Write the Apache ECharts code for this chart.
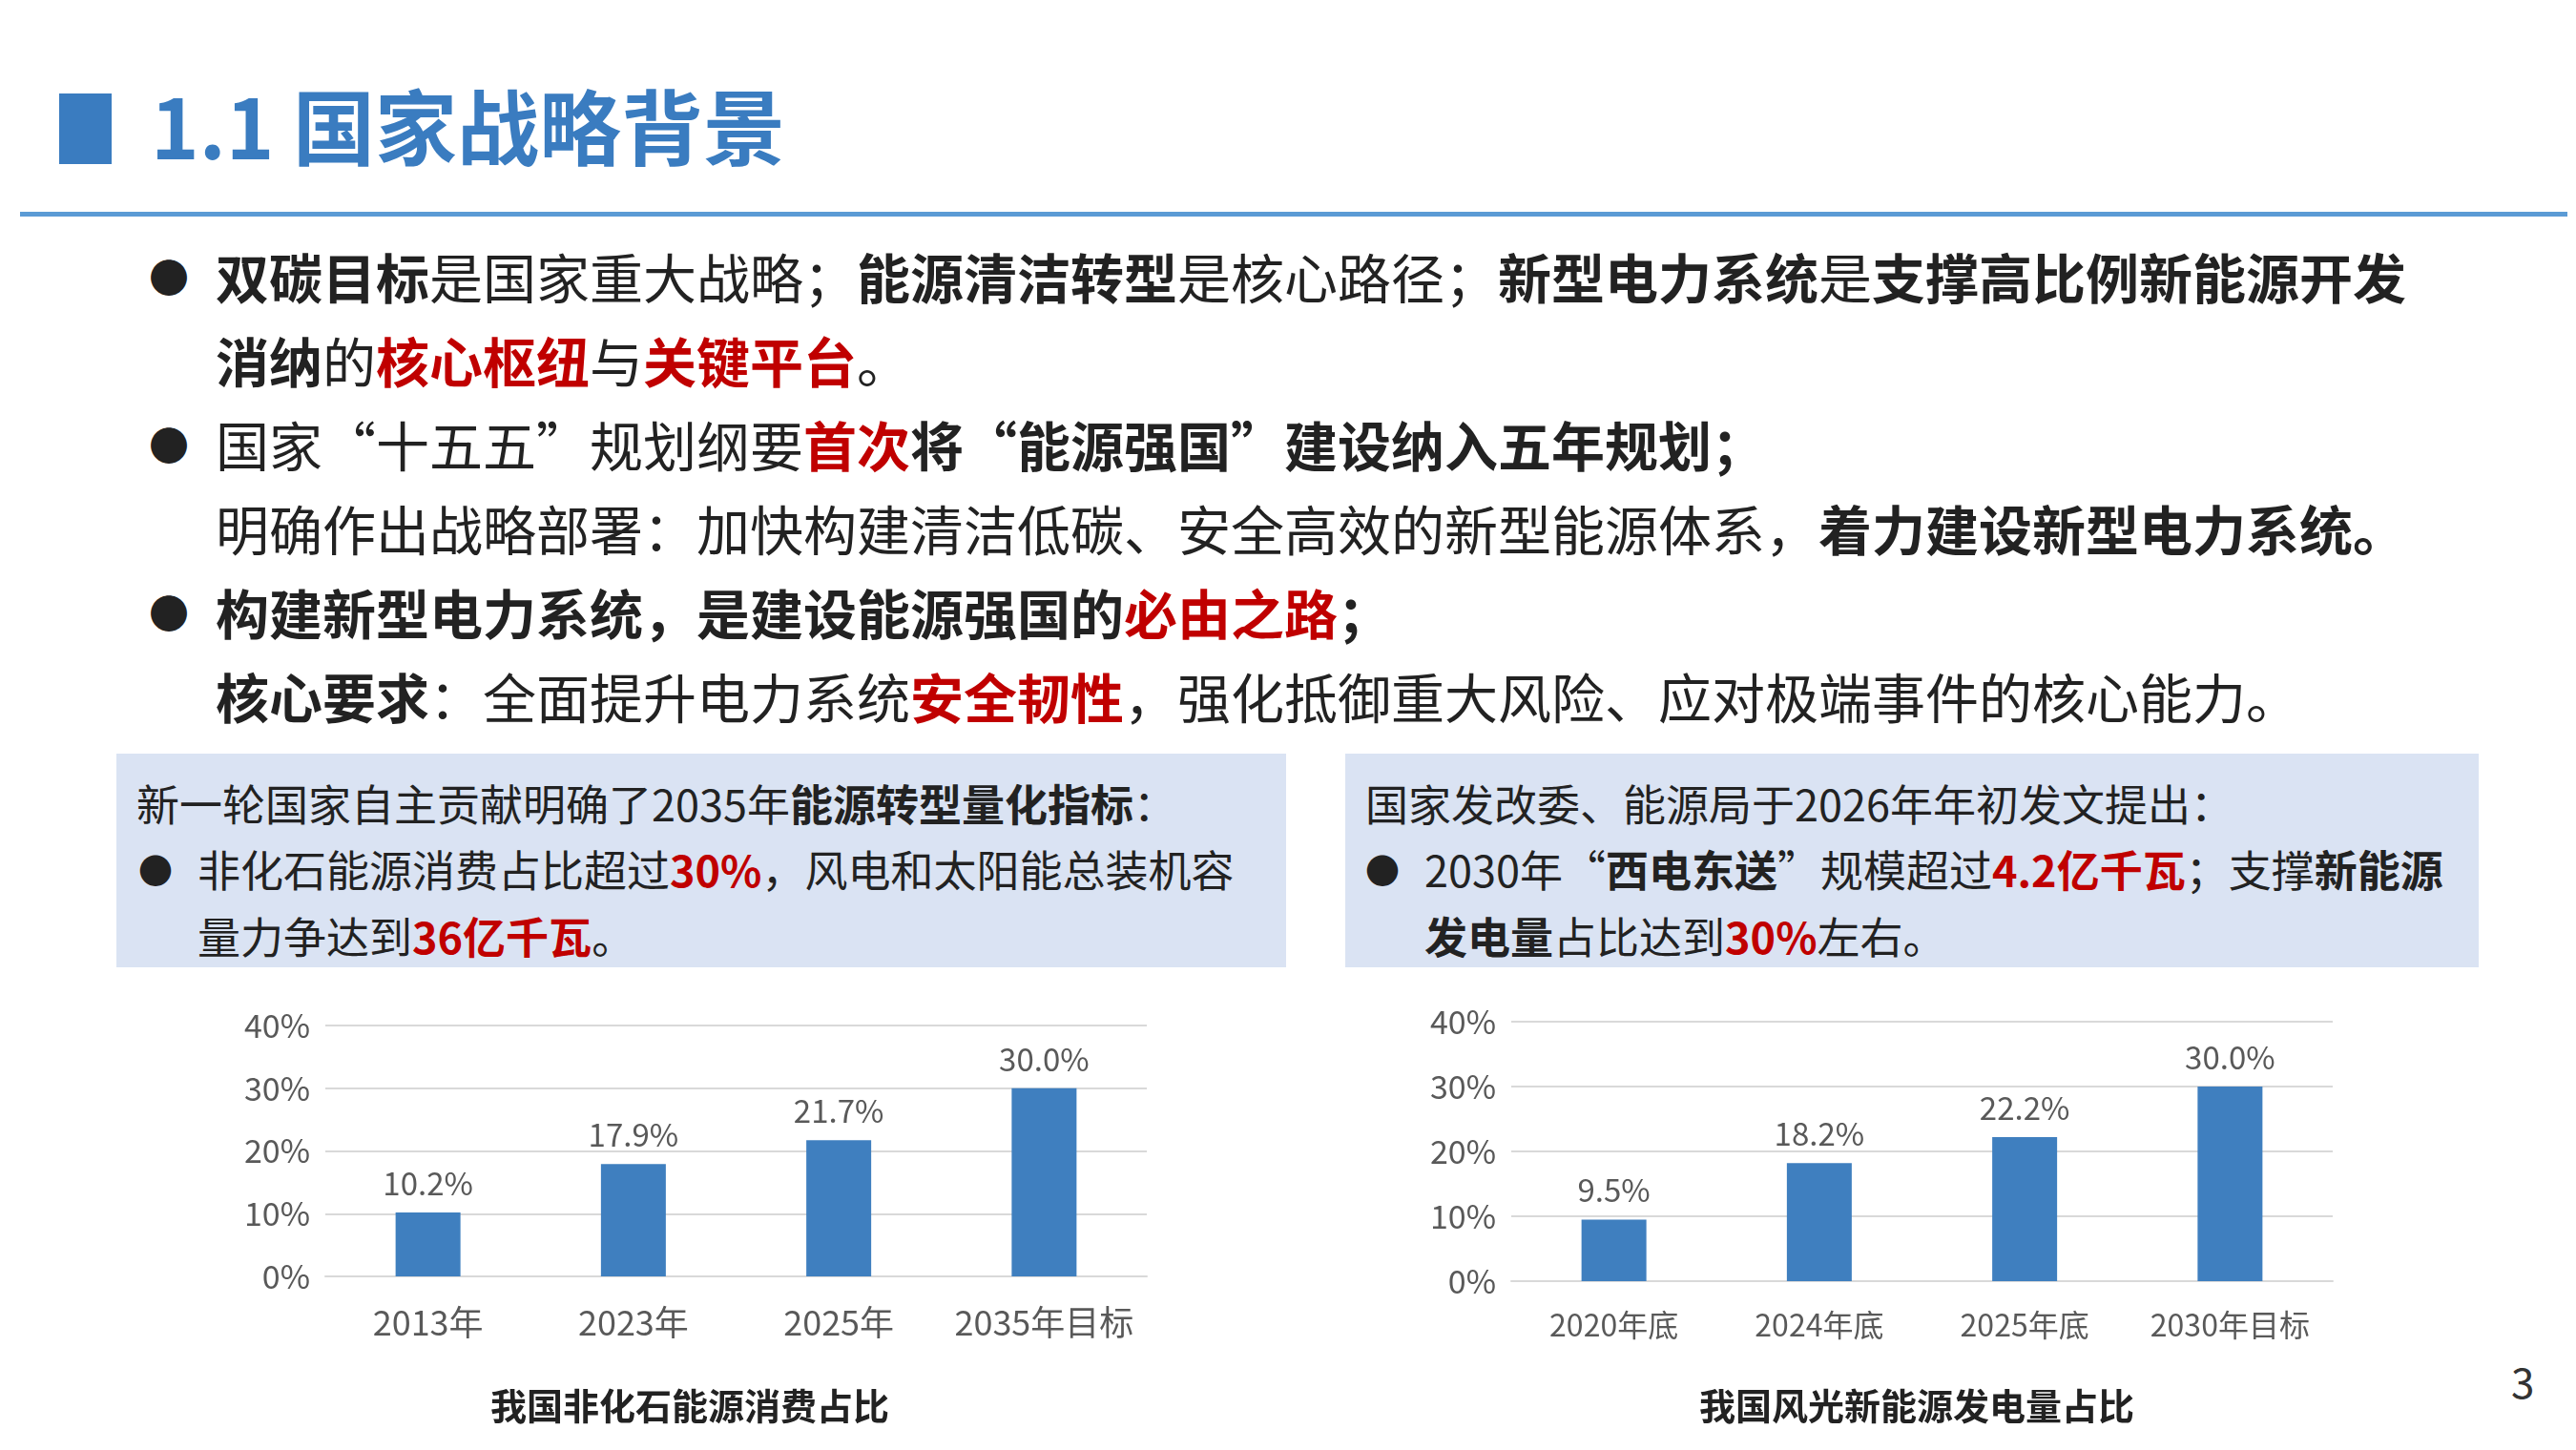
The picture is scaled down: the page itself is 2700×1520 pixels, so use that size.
<!DOCTYPE html>
<html><head><meta charset="utf-8">
<script src="https://cdn.jsdelivr.net/npm/echarts@6/dist/echarts.min.js"></script>
<style>
body{margin:0;width:2700px;height:1520px;background:#fff;font-family:"Noto Sans CJK SC",sans-serif;overflow:hidden;position:relative;color:#222}
.abs{position:absolute;white-space:nowrap}
b{font-weight:700}
.r{color:#c00000;font-weight:700}
.ln{font-size:56px;left:226px;line-height:88px}
.dot{position:absolute;left:-70px;font-size:42px}
.box{position:absolute;background:#dae3f3;top:790px;height:224px}
.bx{font-size:45px;line-height:70px}
#chart{position:absolute;left:0;top:0;width:2700px;height:1520px}
</style></head><body>
<div class="abs" style="left:62px;top:98px;width:55px;height:74px;background:#3a7cc0"></div>
<div class="abs" style="left:158px;top:78px;font-size:86px;font-weight:700;color:#3a7cc0;line-height:104px">1.1 国家战略背景</div>
<div class="abs" style="left:21px;top:222px;width:2670px;height:5px;background:#5b9bd5"></div>

<div class="abs ln" style="top:245px"><span class="dot">●</span><b>双碳目标</b>是国家重大战略；<b>能源清洁转型</b>是核心路径；<b>新型电力系统</b>是<b>支撑高比例新能源开发</b></div>
<div class="abs ln" style="top:333px"><b>消纳</b>的<span class="r">核心枢纽</span>与<span class="r">关键平台</span>。</div>
<div class="abs ln" style="top:421px"><span class="dot">●</span>国家“十五五”规划纲要<span class="r">首次</span><b>将“能源强国”建设纳入五年规划；</b></div>
<div class="abs ln" style="top:509px">明确作出战略部署：加快构建清洁低碳、安全高效的新型能源体系，<b>着力建设新型电力系统。</b></div>
<div class="abs ln" style="top:597px"><span class="dot">●</span><b>构建新型电力系统，是建设能源强国的</b><span class="r">必由之路</span><b>；</b></div>
<div class="abs ln" style="top:685px"><b>核心要求</b>：全面提升电力系统<span class="r">安全韧性</span>，强化抵御重大风险、应对极端事件的核心能力。</div>

<div class="box" style="left:122px;width:1226px"></div>
<div class="box" style="left:1410px;width:1188px"></div>
<div class="abs bx" style="left:143px;top:807px">新一轮国家自主贡献明确了2035年<b>能源转型量化指标</b>：</div>
<div class="abs bx" style="left:207px;top:876px"><span class="dot" style="left:-62px;font-size:36px">●</span>非化石能源消费占比超过<span class="r">30%</span>，风电和太阳能总装机容</div>
<div class="abs bx" style="left:207px;top:946px">量力争达到<span class="r">36亿千瓦</span>。</div>
<div class="abs bx" style="left:1431px;top:807px">国家发改委、能源局于2026年年初发文提出：</div>
<div class="abs bx" style="left:1493px;top:876px"><span class="dot" style="left:-62px;font-size:36px">●</span>2030年“<b>西电东送</b>”规模超过<span class="r">4.2亿千瓦</span>；支撑<b>新能源</b></div>
<div class="abs bx" style="left:1493px;top:946px"><b>发电量</b>占比达到<span class="r">30%</span>左右。</div>
<div class="abs" style="left:2632px;top:1415px;font-size:44px;color:#333">3</div>
<div id="chart"></div>
<script>
var leftCats = ['2013年', '2023年', '2025年', '2035年目标'];
var leftVals = [10.2, 17.9, 21.7, 30.0];
var rightCats = ['2020年底', '2024年底', '2025年底', '2030年目标'];
var rightVals = [9.5, 18.2, 22.2, 30.0];
var leftTitle = '我国非化石能源消费占比';
var rightTitle = '我国风光新能源发电量占比';

var chart = echarts.init(document.getElementById('chart'));
function yAx(i) {
	return {
		gridIndex: i, type: 'value', min: 0, max: 40, interval: 10,
		axisLine: {show: false}, axisTick: {show: false},
		axisLabel: {formatter: '{value}%', color: '#595959', fontSize: 34, margin: 16, fontFamily: 'Noto Sans CJK SC'},
		splitLine: {lineStyle: {color: '#d9d9d9', width: 2}}
	};
}
function xAx(i, cats, size) {
	return {
		gridIndex: i, type: 'category', data: cats,
		axisLine: {lineStyle: {color: '#d9d9d9', width: 2}}, axisTick: {show: false},
		axisLabel: {interval: 0, color: '#595959', fontSize: size, margin: 30, fontFamily: 'Noto Sans CJK SC'}
	};
}
function bar(i, vals) {
	return {
		type: 'bar', xAxisIndex: i, yAxisIndex: i, data: vals, barWidth: 68,
		itemStyle: {color: '#3f7fbf'},
		label: {show: true, position: 'top', distance: 14, color: '#595959', fontSize: 33,
			fontFamily: 'Noto Sans CJK SC', formatter: function(p) { return p.value.toFixed(1) + '%'; }}
	};
}
chart.setOption({
	animation: false,
	title: [
		{text: leftTitle, left: 718, top: 1450, textAlign: 'center', textStyle: {fontSize: 38, fontWeight: 'bold', color: '#222', fontFamily: 'Noto Sans CJK SC'}},
		{text: rightTitle, left: 2004, top: 1450, textAlign: 'center', textStyle: {fontSize: 38, fontWeight: 'bold', color: '#222', fontFamily: 'Noto Sans CJK SC'}}
	],
	grid: [
		{left: 341, width: 861, top: 1075, height: 263},
		{left: 1584, width: 861, top: 1071, height: 272}
	],
	xAxis: [xAx(0, leftCats, 36), xAx(1, rightCats, 32)],
	yAxis: [yAx(0), yAx(1)],
	series: [bar(0, leftVals), bar(1, rightVals)]
});
</script>
</body></html>
